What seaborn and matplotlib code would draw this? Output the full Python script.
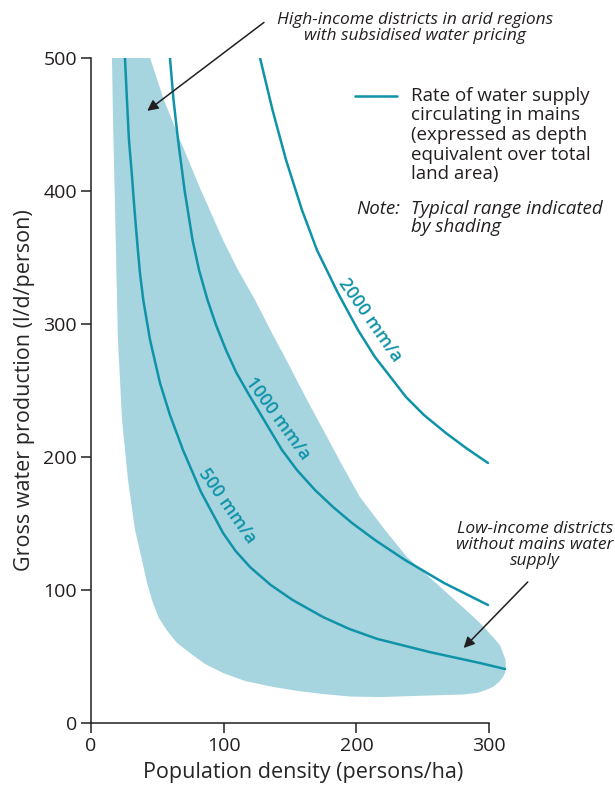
import numpy as np
import pandas as pd
import matplotlib
matplotlib.use('Agg')
import matplotlib.pyplot as plt
import seaborn as sns

# valores: densidad (persons/ha) y produccion (l/d/person)
dens_500 = [25.6, 27.1, 28.6, 30.7, 32.8, 35.0, 36.9, 39.4, 44.5, 52.0, 59.5, 69.3, 82.9, 99.5,
            109.0, 119.8, 135.4, 151.9, 174.8, 194.7, 215.8, 255.0, 293.1, 312.0]
prod_500 = [500, 468.4, 438.3, 413.5, 385.7, 359.4, 338.3, 318.0, 288.0, 255.6, 231.6, 205.3, 173.7, 142.9,
            129.3, 117.3, 103.8, 92.5, 79.7, 70.7, 63.2, 53.4, 45.1, 40.6]

dens_1000 = [59.5, 62.2, 65.6, 70.5, 76.5, 81.4, 87.8, 94.2, 101.7, 109.3, 118.3, 130.4, 143.9,
             155.2, 168.8, 182.4, 196.7, 214.0, 236.6, 266.0, 299.2]
prod_1000 = [500, 468.4, 438.4, 400.8, 363.2, 340.6, 318.1, 299.3, 280.5, 263.9, 248.1, 227.8, 205.3,
             190.2, 175.2, 162.4, 150.4, 137.6, 122.6, 105.3, 88.7]

dens_2000 = [127.4, 136.8, 147.0, 159.0, 170.3, 186.1, 201.2, 214.0, 237.4, 250.9, 267.5, 282.6, 299.2]
prod_2000 = [500, 460.9, 423.3, 385.7, 355.6, 323.3, 295.5, 275.2, 245.1, 231.6, 218.0, 206.8, 195.5]

# contorno de la zona sombreada (rango tipico)
shade_x = [15.8, 44.5, 55.0, 65.6, 82.1, 99.5, 110.8, 123.6, 136.4, 150.0, 162.8, 176.3, 189.2, 202.7,
           221.6, 238.1, 253.2, 268.3, 281.8, 293.1, 302.9, 308.2, 310.5, 312.4, 312.7, 312.0, 310.5,
           307.5, 302.9, 297.7, 290.9, 280.3, 268.3, 242.7, 217.8, 195.2, 174.8, 156.0, 137.2, 116.1,
           99.5, 85.9, 74.6, 64.8, 57.0, 51.2, 46.7, 42.2, 38.4, 33.2, 27.9, 23.4, 20.3, 18.1, 16.6]
shade_y = [500, 500, 468.4, 442.1, 402.3, 363.2, 340.6, 318.1, 293.2, 267.7, 242.9, 218.0, 194.0, 169.9,
           145.1, 124.8, 111.3, 97.7, 85.7, 75.2, 64.7, 58.6, 52.6, 47.4, 42.1, 37.6, 34.6,
           30.8, 27.1, 24.8, 22.6, 21.4, 21.1, 20.3, 19.5, 19.9, 21.8, 24.1, 27.1, 31.6,
           37.6, 44.4, 52.6, 60.2, 69.9, 78.9, 90.2, 105.3, 122.6, 145.1, 182.7, 227.8, 288.0, 388.0, 453.4]

rates = ['500 mm/a', '1000 mm/a', '2000 mm/a']
label_x = [102.5, 141.0, 210.2]
label_y = [163, 229, 303]
label_rot = [-55, -54, -55]

teal = '#0f93a8'
shade = '#a6d4df'
ink = '#231f20'

df = pd.concat([
    pd.DataFrame({'dens': dens_500, 'prod': prod_500, 'rate': rates[0]}),
    pd.DataFrame({'dens': dens_1000, 'prod': prod_1000, 'rate': rates[1]}),
    pd.DataFrame({'dens': dens_2000, 'prod': prod_2000, 'rate': rates[2]}),
])

sns.set_style('ticks')
plt.rcParams['font.family'] = ['Open Sans', 'DejaVu Sans']
plt.rcParams['text.color'] = ink

fig = plt.figure(figsize=(6.15, 7.91), dpi=100)
ax = fig.add_axes([91/615, 68/791, 424.6/615, 665/791])

ax.fill(shade_x, shade_y, color=shade, lw=0, zorder=1)
sns.lineplot(data=df, x='dens', y='prod', hue='rate', palette={r: teal for r in rates},
             lw=1.8, legend=False, sort=False, ax=ax, zorder=3)

for r, lx, ly, rot in zip(rates, label_x, label_y, label_rot):
    ax.text(lx, ly, r, color=teal, fontsize=13, fontweight='semibold', rotation=rot,
            rotation_mode='anchor', ha='center', va='center')

ax.set_xlim(0, 320)
ax.set_ylim(0, 500)
ax.set_xticks([0, 100, 200, 300])
ax.set_yticks([0, 100, 200, 300, 400, 500])
ax.spines['right'].set_visible(False)
ax.spines['top'].set_visible(False)
ax.spines['bottom'].set_bounds(0, 300)
for s in ['left', 'bottom']:
    ax.spines[s].set_linewidth(1.1)
    ax.spines[s].set_color(ink)
ax.tick_params(length=7, width=1.1, pad=3, labelsize=14, colors=ink)
ax.set_xlabel('Population density (persons/ha)', fontsize=15.5, labelpad=5)
ax.set_ylabel('Gross water production (l/d/person)', fontsize=15.5, labelpad=6)

# leyenda dibujada a mano
ax.plot([0.622, 0.721], [0.943, 0.943], transform=ax.transAxes, color=teal, lw=1.8, clip_on=False)
ax.text(0.754, 0.957, 'Rate of water supply\ncirculating in mains\n(expressed as depth\nequivalent over total\nland area)',
        transform=ax.transAxes, fontsize=13.5, va='top', ha='left', linespacing=1.12)
ax.text(0.624, 0.786, 'Note:', transform=ax.transAxes, fontsize=13.5, style='italic', va='top')
ax.text(0.754, 0.786, 'Typical range indicated\nby shading', transform=ax.transAxes,
        fontsize=13.5, style='italic', va='top', linespacing=1.0)

# anotaciones con flecha
ax.annotate('', xy=(40.7, 459), xytext=(132, 528), annotation_clip=False,
            arrowprops=dict(arrowstyle='-|>', color=ink, lw=1.1, mutation_scale=16))
fig.text(415/615, 1 - 28/791, 'High-income districts in arid regions\nwith subsidised water pricing',
         fontsize=12.5, style='italic', ha='center', va='center', linespacing=1.0)

ax.annotate('', xy=(279.4, 54.9), xytext=(330.6, 107.5), annotation_clip=False,
            arrowprops=dict(arrowstyle='-|>', color=ink, lw=1.1, mutation_scale=16))
fig.text(535/615, 1 - 545/791, 'Low-income districts\nwithout mains water\nsupply',
         fontsize=12.5, style='italic', ha='center', va='center', linespacing=1.0)

fig.savefig('out.png', dpi=100)
